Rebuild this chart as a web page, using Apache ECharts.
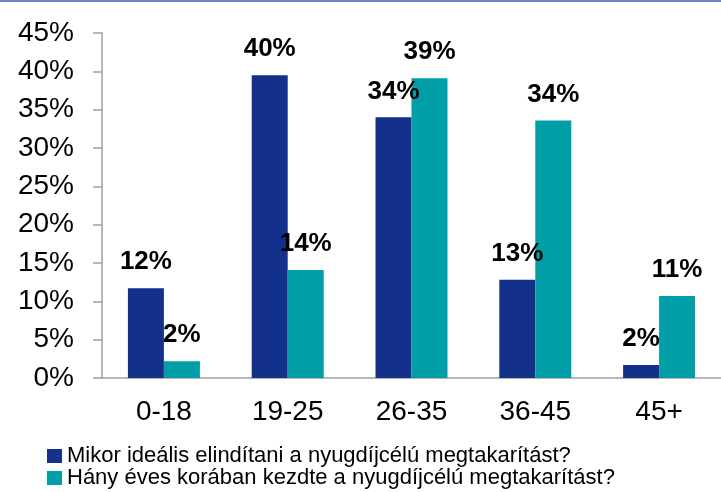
<!DOCTYPE html>
<html lang="hu">
<head>
    <meta charset="UTF-8">
    <title>Nyugdíjcélú megtakarítás</title>
    <style>
        * { margin: 0; padding: 0; }
        #chart { width: 721px; height: 492px; background: #fff; }
    </style>
</head>
<body>
    <div id="chart"></div>
    <script src="https://cdn.jsdelivr.net/npm/echarts@6/dist/echarts.min.js"></script>
    <script>
        // adatok
        const categories = ['0-18', '19-25', '26-35', '36-45', '45+'];
        const seriesNames = [
            'Mikor ideális elindítani a nyugdíjcélú megtakarítást?',
            'Hány éves korában kezdte a nyugdíjcélú megtakarítást?'
        ];
        const idealis = [11.7, 39.5, 34.0, 12.8, 1.7];
        const kezdte = [2.2, 14.1, 39.1, 33.6, 10.7];
        const yTicks = { min: 0, max: 45, interval: 5 };

        const font = 'Liberation Sans, Arial, sans-serif';
        const colors = ['#13318b', '#009ea7'];

        const chart = echarts.init(document.getElementById('chart'));

        const barLabel = {
            show: true,
            position: 'top',
            distance: 13,
            color: '#000',
            fontFamily: font,
            fontWeight: 'bold',
            fontSize: 26,
            formatter: p => Math.round(p.value) + '%'
        };

        const option = {
            backgroundColor: '#fff',
            animation: false,
            graphic: [{
                type: 'rect',
                left: 0,
                top: 0,
                shape: { width: 721, height: 2 },
                style: { fill: '#6b86c5' }
            }],
            grid: {
                left: 102,
                top: 33,
                width: 632,
                height: 345
            },
            legend: {
                orient: 'vertical',
                left: 47,
                top: 445,
                padding: 0,
                itemGap: 0,
                itemWidth: 15,
                itemHeight: 14,
                icon: 'rect',
                textStyle: {
                    color: '#000',
                    fontFamily: font,
                    fontSize: 22
                },
                data: seriesNames
            },
            xAxis: {
                type: 'category',
                data: categories,
                axisLine: { lineStyle: { color: '#a0a0a0', width: 1.5 } },
                axisTick: { length: 9, lineStyle: { color: '#a0a0a0', width: 1.5 } },
                axisLabel: {
                    color: '#000',
                    fontFamily: font,
                    fontSize: 28,
                    margin: 20
                }
            },
            yAxis: {
                type: 'value',
                min: yTicks.min,
                max: yTicks.max,
                interval: yTicks.interval,
                axisLine: { show: true, lineStyle: { color: '#a0a0a0', width: 1.5 } },
                axisTick: { show: true, length: 9, lineStyle: { color: '#a0a0a0', width: 1.5 } },
                splitLine: { show: false },
                axisLabel: {
                    color: '#000',
                    fontFamily: font,
                    fontSize: 28,
                    margin: 28,
                    formatter: '{value}%'
                }
            },
            series: [{
                name: seriesNames[0],
                type: 'bar',
                barWidth: 36,
                barGap: '0%',
                itemStyle: { color: colors[0] },
                label: barLabel,
                data: idealis
            }, {
                name: seriesNames[1],
                type: 'bar',
                barWidth: 36,
                barGap: '0%',
                itemStyle: { color: colors[1] },
                label: barLabel,
                data: kezdte
            }]
        };

        chart.setOption(option);
    </script>
</body>
</html>
